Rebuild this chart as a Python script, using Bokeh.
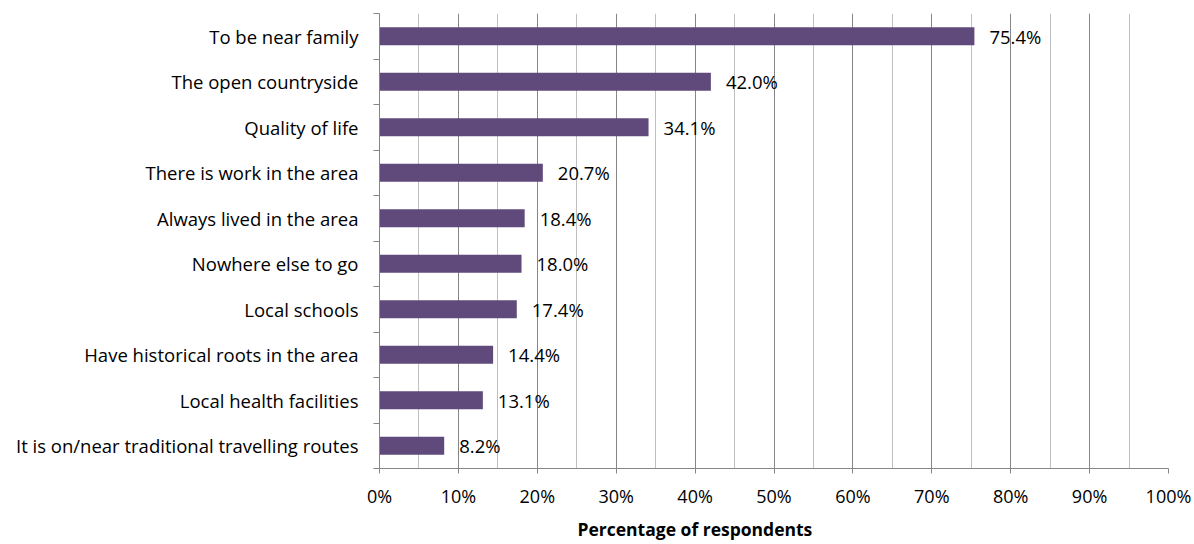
from bokeh.plotting import figure
from bokeh.models import Range1d, FixedTicker, Title, ColumnDataSource
from bokeh.embed import file_html
from bokeh.resources import INLINE
from bokeh.core.properties import value

categories = [
    "To be near family",
    "The open countryside",
    "Quality of life",
    "There is work in the area",
    "Always lived in the area",
    "Nowhere else to go",
    "Local schools",
    "Have historical roots in the area",
    "Local health facilities",
    "It is on/near traditional travelling routes",
]
values = [75.4, 42.0, 34.1, 20.7, 18.4, 18.0, 17.4, 14.4, 13.1, 8.2]
x_ticks = [0, 10, 20, 30, 40, 50, 60, 70, 80, 90, 100]
x_tick_labels = ["0%", "10%", "20%", "30%", "40%", "50%", "60%", "70%", "80%", "90%", "100%"]
x_minor = [5, 15, 25, 35, 45, 55, 65, 75, 85, 95]
x_title = "Percentage of respondents"

FONT = "Open Sans"
FS = "18.5px"
BAR = "#604A7B"
AX = "#868686"

n = len(categories)
ys = [i + 0.5 for i in range(n)]
src = ColumnDataSource(dict(y=ys, v=values, lab=[f"{v:.1f}%" for v in values]))

p = figure(width=1194, height=544, output_backend="svg", toolbar_location=None,
           x_range=Range1d(0, 100), y_range=Range1d(n, 0),
           min_border_left=379, min_border_right=26, min_border_top=13, min_border_bottom=76)
p.outline_line_color = None
p.background_fill_color = "white"

p.hbar(y="y", left=0, right="v", height=0.4, fill_color=BAR, line_color=None, source=src)
p.text(x="v", y="y", text="lab", x_offset=15, text_baseline="middle", text_align="left",
       text_font=value(FONT), text_font_size=value(FS), text_color="#000000", source=src)

# grid
p.xgrid.ticker = FixedTicker(ticks=x_ticks, minor_ticks=x_minor)
p.xgrid.grid_line_color = AX
p.xgrid.minor_grid_line_color = "#c0c0c0"
p.ygrid.grid_line_color = None

# x axis
xa = p.xaxis[0]
xa.ticker = FixedTicker(ticks=x_ticks, minor_ticks=[])
xa.major_label_overrides = {t: l for t, l in zip(x_ticks, x_tick_labels)}
xa.axis_line_color = AX
xa.major_tick_line_color = AX
xa.major_tick_in = 0
xa.major_tick_out = 5
xa.minor_tick_out = 0
xa.minor_tick_in = 0
xa.major_label_standoff = 10
xa.major_label_text_font = FONT
xa.major_label_text_font_size = "18px"
xa.major_label_text_color = "#000000"

# y axis
ya = p.yaxis[0]
ya.ticker = FixedTicker(ticks=ys, minor_ticks=list(range(n + 1)))
ya.major_label_overrides = {y: c for y, c in zip(ys, categories)}
ya.axis_line_color = AX
ya.major_tick_in = 0
ya.major_tick_out = 0
ya.minor_tick_in = 0
ya.minor_tick_out = 6
ya.minor_tick_line_color = AX
ya.major_label_standoff = 15
ya.major_label_text_font = FONT
ya.major_label_text_font_size = FS
ya.major_label_text_color = "#000000"

t = Title(text=x_title, align="left", offset=198, text_font=FONT, text_font_size="17.5px",
          text_font_style="bold", text_color="#000000", standoff=8)
p.add_layout(t, "below")

open("out.html", "w").write(file_html(p, INLINE))
